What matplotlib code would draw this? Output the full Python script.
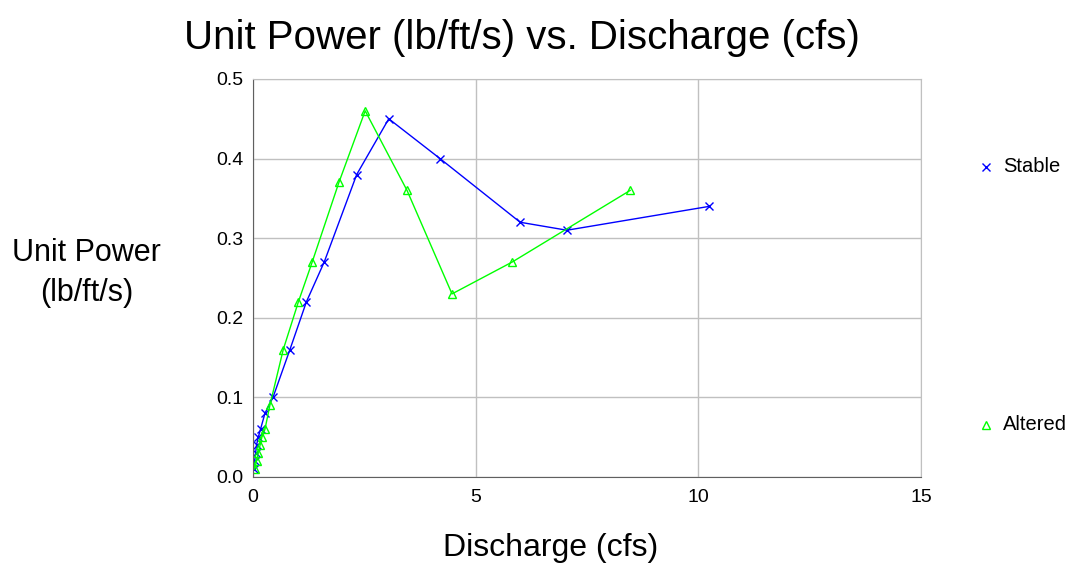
import matplotlib.pyplot as plt
from matplotlib.lines import Line2D

plt.rcParams['font.family'] = ['Liberation Sans', 'DejaVu Sans']

# Stable channel
stable_q = [0.02, 0.04, 0.06, 0.08, 0.12, 0.17, 0.27, 0.45, 0.83, 1.2, 1.6, 2.33, 3.05, 4.2, 6.0, 7.05, 10.25]
stable_p = [0.01, 0.02, 0.03, 0.04, 0.05, 0.06, 0.08, 0.10, 0.16, 0.22, 0.27, 0.38, 0.45, 0.40, 0.32, 0.31, 0.34]

# Altered channel
altered_q = [0.04, 0.08, 0.12, 0.16, 0.2, 0.27, 0.38, 0.68, 1.02, 1.33, 1.93, 2.52, 3.46, 4.47, 5.82, 8.47]
altered_p = [0.01, 0.02, 0.03, 0.04, 0.05, 0.06, 0.09, 0.16, 0.22, 0.27, 0.37, 0.46, 0.36, 0.23, 0.27, 0.36]

fig = plt.figure(figsize=(10.7, 5.65), dpi=100)
ax = fig.add_axes([0.2364, 0.1558, 0.6243, 0.7044])

ax.plot(stable_q, stable_p, color='#0000ff', lw=1, marker='x', ms=6, mew=1)
ax.plot(altered_q, altered_p, color='#00ff00', lw=1, marker='^', ms=6, mew=1, mfc='none')

ax.set_xlim(0, 15)
ax.set_ylim(0, 0.5)
ax.set_xticks([0, 5, 10, 15])
ax.set_yticks([0, 0.1, 0.2, 0.3, 0.4, 0.5])
ax.set_yticklabels(['0.0', '0.1', '0.2', '0.3', '0.4', '0.5'])
ax.grid(True, color='#c0c0c0', lw=1)
ax.set_axisbelow(True)
for s in ['top', 'right']:
    ax.spines[s].set_color('#c0c0c0')
for s in ['left', 'bottom']:
    ax.spines[s].set_color('#606060')
ax.tick_params(axis='y', labelsize=14, length=0, pad=7)
ax.tick_params(axis='x', labelsize=14, length=0, pad=9)

fig.text(0.515, 1 - 548 / 565, 'Discharge (cfs)', fontsize=23, ha='center', va='center')
fig.text(0.081, 1 - 273 / 565, 'Unit Power\n(lb/ft/s)', fontsize=22, ha='center', va='center',
         linespacing=1.4)
fig.text(0.488, 1 - 38 / 565, 'Unit Power (lb/ft/s) vs. Discharge (cfs)', fontsize=29,
         ha='center', va='center')

# legend entries placed at the right, far apart like the original
fig.add_artist(Line2D([0.9215], [1 - 167 / 565], transform=fig.transFigure,
                      color='#0000ff', marker='x', ms=6, mew=1, ls='none'))
fig.text(0.9375, 1 - 167 / 565, 'Stable', fontsize=14.5, va='center')
fig.add_artist(Line2D([0.9215], [1 - 425 / 565], transform=fig.transFigure,
                      color='#00ff00', marker='^', ms=6, mew=1, mfc='none', ls='none'))
fig.text(0.9375, 1 - 425 / 565, 'Altered', fontsize=14.5, va='center')

fig.savefig('out.png', dpi=100)
